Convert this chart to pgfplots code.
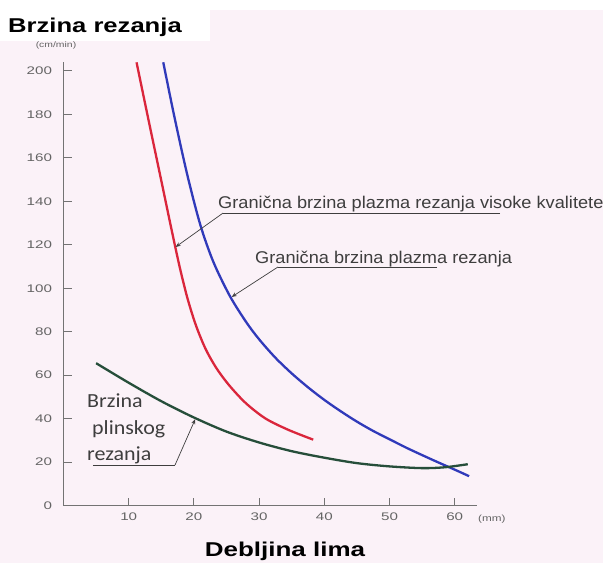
\documentclass[border=0pt]{standalone}
\usepackage{fontspec}
\setmainfont{Liberation Sans}
\newfontfamily\carlito{Carlito}
\usepackage{graphicx}
\usepackage{pgfplots}
\pgfplotsset{compat=1.18}
\usetikzlibrary{arrows.meta}

\definecolor{bgpink}{RGB}{251,242,248}
\definecolor{axisgray}{RGB}{115,115,115}
\definecolor{labelgray}{RGB}{100,100,100}
\definecolor{textgray}{RGB}{62,62,62}
\definecolor{curvered}{RGB}{218,38,60}
\definecolor{curveblue}{RGB}{48,58,186}
\definecolor{curvegreen}{RGB}{38,78,58}

\begin{document}
\begin{tikzpicture}
\useasboundingbox (0pt,0pt) rectangle (603pt,563pt);
\fill[bgpink] (0pt,0pt) rectangle (603pt,563pt);
\fill[white] (0pt,553pt) rectangle (603pt,563pt);
\fill[white] (0pt,522pt) rectangle (210pt,563pt);

\begin{axis}[
  at={(63.5pt,57.5pt)}, anchor=origin,
  scale only axis, width=413.4pt, height=443.2pt,
  xmin=0, xmax=63.4, ymin=0, ymax=204,
  axis x line*=bottom, axis y line*=left,
  axis line style={axisgray, line width=1.2pt, -},
  xtick={10,20,...,60}, ytick={0,20,...,200},
  tick align=inside, major tick length=8pt,
  tick style={axisgray, line width=1pt},
  ticklabel style={font=\fontsize{11}{13}\selectfont, text=labelgray},
  xticklabel={\scalebox{1.38}[1]{\pgfmathprintnumber[assume math mode=true]{\tick}}},
  yticklabel={\scalebox{1.38}[1]{\pgfmathprintnumber[assume math mode=true]{\tick}}},
  xticklabel style={yshift=-4pt},
  yticklabel style={xshift=-8pt},
  clip=false
]
% granicna brzina plazma rezanja visoke kvalitete
\addplot[curvered, line width=2.3pt, smooth] coordinates {
  (11.2,204) (13,178) (15,149.5) (16.5,128) (17.8,110) (19,95.5)
  (20.3,83) (21.8,72) (23.5,63) (25.5,55) (28,47) (31,40) (34.5,34.8)
  (38.3,30.3)
};
% granicna brzina plazma rezanja
\addplot[curveblue, line width=2.3pt, smooth] coordinates {
  (15.3,204) (17,179) (19,152) (21,129) (23,112) (25.5,96.5) (28,84.5)
  (30,76.5) (32.5,68) (35,60.8) (37.5,54.4) (40,48.6) (42.5,43.4) (45,38.6)
  (47.5,34.3) (50,30.5) (52.5,26.7) (55,23.2) (57.5,19.8) (60,16.5)
  (62.2,13.5)
};
% brzina plinskog rezanja
\addplot[curvegreen, line width=2.3pt, smooth] coordinates {
  (5,65.5) (10,56.5) (15,48) (20,40.5) (25,34) (30,29) (35,25) (40,22)
  (45,19.5) (50,18) (55,17.2) (58.5,17.6) (62,19)
};

% leaders
\draw[textgray, line width=0.7pt] (axis cs:66.95,134.6) -- (axis cs:24.46,134.6);
\draw[textgray, line width=0.7pt, -{Stealth[length=5pt,width=4pt]}]
  (axis cs:24.46,134.6) -- (axis cs:17.2,119);
\draw[textgray, line width=0.7pt] (axis cs:57.3,109.8) -- (axis cs:32.9,109.8);
\draw[textgray, line width=0.7pt, -{Stealth[length=5pt,width=4pt]}]
  (axis cs:32.9,109.8) -- (axis cs:25.8,96);
\draw[textgray, line width=0.7pt] (axis cs:4.52,18.6) -- (axis cs:17.1,18.6);
\draw[textgray, line width=0.7pt, -{Stealth[length=5pt,width=4pt]}]
  (axis cs:17.1,18.6) -- (axis cs:20.2,39.7);

\node[anchor=base west, inner sep=0, text=textgray, font=\fontsize{17}{20}\selectfont]
  at (axis cs:23.7,136.5) {\scalebox{1.07}[1]{Granična brzina plazma rezanja visoke kvalitete}};
\node[anchor=base west, inner sep=0, text=textgray, font=\fontsize{17}{20}\selectfont]
  at (axis cs:29.37,111.6) {\scalebox{1.07}[1]{Granična brzina plazma rezanja}};
\node[anchor=base west, inner sep=0, text=textgray, font=\carlito\fontsize{20}{24}\selectfont]
  at (axis cs:3.6,44.9) {\scalebox{1.1}[1]{Brzina}};
\node[anchor=base west, inner sep=0, text=textgray, font=\carlito\fontsize{20}{24}\selectfont]
  at (axis cs:4.37,32.7) {\scalebox{1.1}[1]{plinskog}};
\node[anchor=base west, inner sep=0, text=textgray, font=\carlito\fontsize{20}{24}\selectfont]
  at (axis cs:3.6,20.9) {\scalebox{1.1}[1]{rezanja}};
\end{axis}

\node[anchor=west, inner sep=0, font=\bfseries\fontsize{20}{24}\selectfont]
  at (8pt,536pt) {\scalebox{1.28}[1]{Brzina rezanja}};
\node[inner sep=0, text=labelgray, font=\fontsize{8}{9}\selectfont]
  at (56pt,518pt) {\scalebox{1.3}[1]{(cm/min)}};
\node[anchor=west, inner sep=0, text=labelgray, font=\fontsize{9}{11}\selectfont]
  at (478pt,44pt) {\scalebox{1.3}[1]{(mm)}};
\node[inner sep=0, font=\bfseries\fontsize{20}{24}\selectfont]
  at (285pt,12pt) {\scalebox{1.3}[1]{Debljina lima}};
\end{tikzpicture}
\end{document}
